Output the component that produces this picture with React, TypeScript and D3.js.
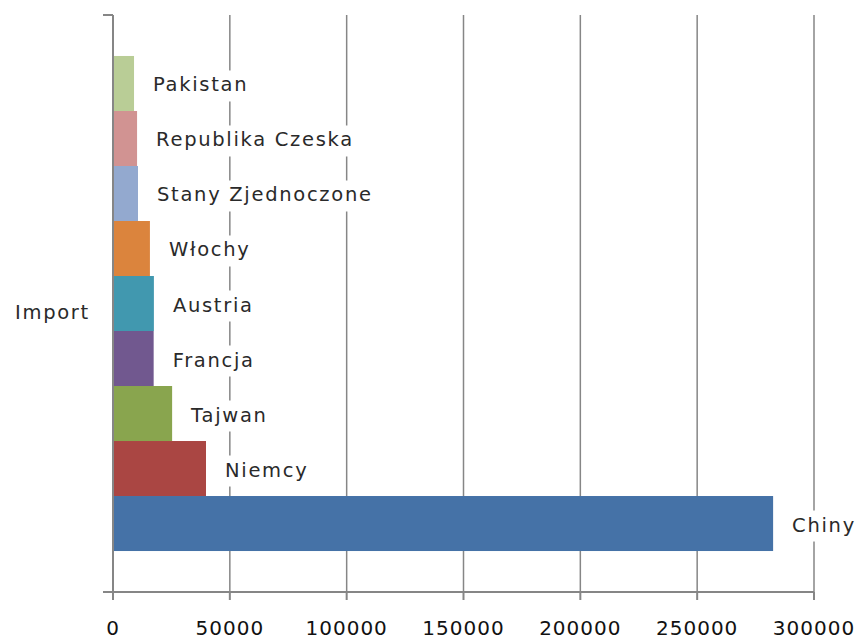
import React, { useEffect, useRef } from 'react'
import * as d3 from 'd3'

const category = 'Import'
const countries = ['Chiny', 'Niemcy', 'Tajwan', 'Francja', 'Austria', 'Włochy', 'Stany Zjednoczone', 'Republika Czeska', 'Pakistan']
const values = [282500, 39800, 25300, 17400, 17500, 15800, 10700, 10300, 9000]
const colors = ['#4572A7', '#AA4643', '#89A54E', '#71588F', '#4198AF', '#DB843D', '#93A9CF', '#D19392', '#B9CD96']
const xTicks = [0, 50000, 100000, 150000, 200000, 250000, 300000]

const width = 867
const height = 641

const App: React.FC = () => {
  const svgRef = useRef<SVGSVGElement>(null)

  useEffect(() => {
    const svg = d3.select(svgRef.current)
    svg.selectAll('*').remove()

    const margin = { top: 15, right: 53, bottom: 49, left: 113 }
    const innerWidth = width - margin.left - margin.right
    const innerHeight = height - margin.top - margin.bottom

    const g = svg.append('g').attr('transform', `translate(${margin.left},${margin.top})`)

    const xScale = d3.scaleLinear().domain([0, 300000]).range([0, innerWidth])
    const yOuter = d3.scaleBand().domain([category]).range([innerHeight, 0])
    const yInner = d3.scaleBand()
      .domain(countries)
      .range([yOuter.bandwidth(), 0])
      .paddingInner(0)
      .paddingOuter(0.745)

    const labelFont = 'DejaVu Sans, sans-serif'

    // gridlines
    g.selectAll('.grid')
      .data(xTicks.slice(1))
      .enter()
      .append('line')
      .attr('x1', d => xScale(d))
      .attr('x2', d => xScale(d))
      .attr('y1', 0)
      .attr('y2', innerHeight)
      .attr('stroke', '#868686')
      .attr('stroke-width', 1.5)

    const cat = g.append('g').attr('transform', `translate(0,${yOuter(category)})`)

    // bars
    cat.selectAll('.bar')
      .data(countries)
      .enter()
      .append('rect')
      .attr('x', 0)
      .attr('y', d => yInner(d) || 0)
      .attr('width', (d, i) => xScale(values[i]))
      .attr('height', yInner.bandwidth())
      .attr('fill', (d, i) => colors[i])

    // data labels with white background
    const labels = cat.selectAll('.lbl')
      .data(countries)
      .enter()
      .append('g')

    labels.each(function (d, i) {
      const lg = d3.select(this)
      const bg = lg.append('rect').attr('fill', 'white')
      const t = lg.append('text')
        .attr('x', xScale(values[i]) + 19)
        .attr('y', (yInner(d) || 0) + yInner.bandwidth() / 2 + 8)
        .attr('font-family', labelFont)
        .attr('font-size', 19.5)
        .attr('letter-spacing', 1.7)
        .attr('fill', '#2a2a2a')
        .text(d)
      const bb = (t.node() as SVGTextElement).getBBox()
      bg.attr('x', bb.x - 2).attr('y', bb.y - 3).attr('width', bb.width + 4).attr('height', bb.height + 8)
    })

    // axes
    const axisColor = '#868686'
    g.append('line')
      .attr('x1', -10).attr('x2', innerWidth)
      .attr('y1', innerHeight).attr('y2', innerHeight)
      .attr('stroke', axisColor).attr('stroke-width', 2)
    g.append('line')
      .attr('x1', 0).attr('x2', 0)
      .attr('y1', 0).attr('y2', innerHeight + 8)
      .attr('stroke', axisColor).attr('stroke-width', 2)
    g.append('line')
      .attr('x1', -10).attr('x2', 0)
      .attr('y1', 0).attr('y2', 0)
      .attr('stroke', axisColor).attr('stroke-width', 2)

    g.selectAll('.xtick')
      .data(xTicks)
      .enter()
      .append('line')
      .attr('x1', d => xScale(d)).attr('x2', d => xScale(d))
      .attr('y1', innerHeight).attr('y2', innerHeight + 8)
      .attr('stroke', axisColor).attr('stroke-width', 2)

    g.selectAll('.xlabel')
      .data(xTicks)
      .enter()
      .append('text')
      .attr('x', d => xScale(d))
      .attr('y', innerHeight + 43)
      .attr('text-anchor', 'middle')
      .attr('font-family', 'DejaVu Sans, sans-serif')
      .attr('font-size', 20)
      .attr('letter-spacing', 1)
      .attr('fill', '#111')
      .text(d => String(d))

    // category label
    g.append('text')
      .attr('x', -98)
      .attr('y', (yOuter(category) || 0) + yOuter.bandwidth() / 2 + 15)
      .attr('font-family', labelFont)
      .attr('font-size', 19.5)
      .attr('letter-spacing', 1.7)
      .attr('fill', '#2a2a2a')
      .text(category)
  }, [])

  return (
    <svg
      ref={svgRef}
      width={width}
      height={height}
      style={{ position: 'absolute', left: 0, top: 0, background: 'white' }}
    />
  )
}

export default App
